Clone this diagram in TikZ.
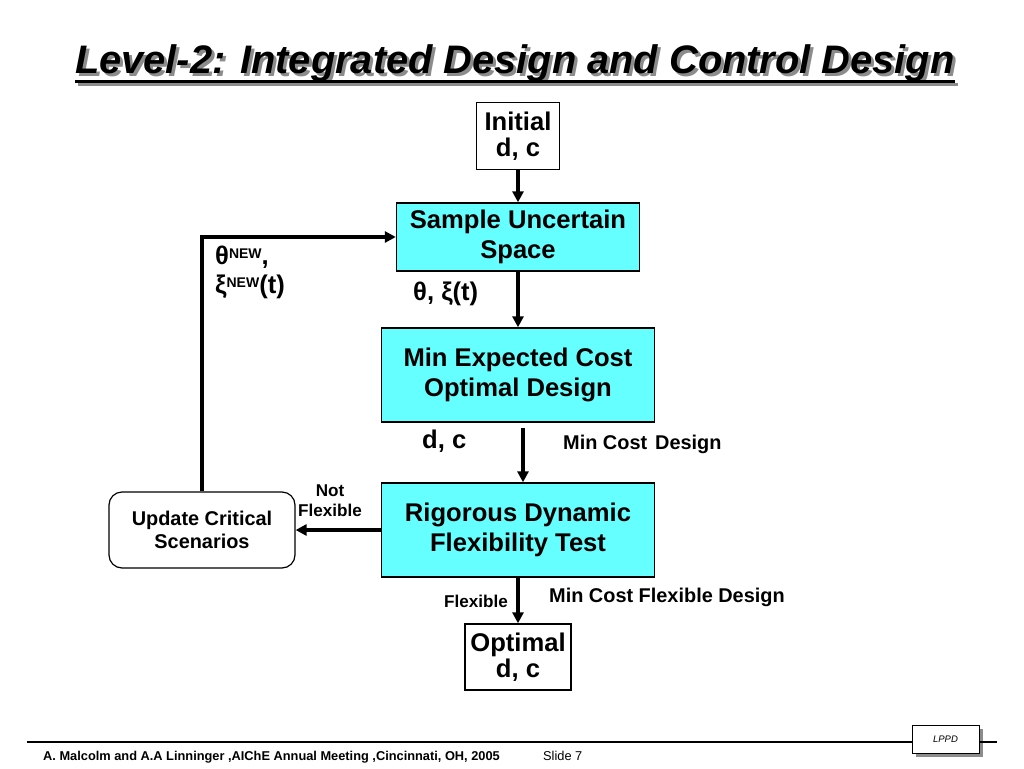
\documentclass[tikz,border=0pt]{standalone}
\usepackage{fontspec}
\setmainfont{Liberation Sans}
\usetikzlibrary{arrows.meta}
\definecolor{boxcyan}{RGB}{102,255,255}
\definecolor{shadowgray}{RGB}{140,140,140}
\begin{document}
\begin{tikzpicture}[x=1pt,y=-1pt,
  arr/.style={line width=3.3pt,-{Triangle[length=11pt,width=11pt]}},
  cyanbox/.style={draw=black,line width=1.4pt,fill=boxcyan,align=center,inner sep=0pt,
    font=\bfseries\fontsize{25.6}{30}\selectfont},
  whitebox/.style={draw=black,line width=1.4pt,fill=white,align=center,inner sep=0pt,
    font=\bfseries\fontsize{25.6}{26.5}\selectfont},
  lbl/.style={inner sep=0pt,anchor=base west},
  bigl/.style={lbl,font=\bfseries\fontsize{25.6}{30}\selectfont},
  midl/.style={lbl,font=\bfseries\fontsize{19.9}{23}\selectfont},
  smalll/.style={inner sep=0pt,font=\bfseries\fontsize{17.1}{19.5}\selectfont},
  titlefont/.style={inner sep=0pt,anchor=base west,font=\bfseries\itshape\fontsize{39.8}{44}\selectfont}
]
\useasboundingbox (0,0) rectangle (1024,768);
\fill[white] (0,0) rectangle (1024,768);

% title with shadow
\node[titlefont,text=shadowgray] (tshadow) at (78,77) {Level-2: Integrated Design and Control Design};
\draw[shadowgray,line width=3pt] ([yshift=-7pt]tshadow.base west) -- ([yshift=-7pt]tshadow.base east);
\node[titlefont] (title) at (75,74) {Level-2: Integrated Design and Control Design};
\draw[line width=3pt] ([yshift=-7pt]title.base west) -- ([yshift=-7pt]title.base east);

% boxes
\node[whitebox,minimum width=83pt,minimum height=67pt] (init) at (518,136) {Initial\\d, c};
\node[cyanbox,minimum width=243pt,minimum height=68pt] (samp) at (518,237) {Sample Uncertain\\Space};
\node[cyanbox,minimum width=273pt,minimum height=94pt] (mec) at (518,375) {Min Expected Cost\\Optimal Design};
\node[cyanbox,minimum width=273pt,minimum height=94pt] (rig) at (518,530) {Rigorous Dynamic\\Flexibility Test};
\node[whitebox,minimum width=106pt,minimum height=66pt] (opt) at (518,657) {Optimal\\d, c};
\node[draw=black,fill=white,rounded corners=13pt,line width=1.2pt,minimum width=186pt,minimum height=76pt,
  align=center,inner sep=0pt,font=\bfseries\fontsize{19.9}{23}\selectfont] (upd) at (202,530) {Update Critical\\Scenarios};

% connectors
\draw[arr] (init.south) -- (samp.north);
\draw[arr] (samp.south) -- (mec.north);
\coordinate (mcs) at (523,428);
\draw[arr] (mcs) -- (mcs |- rig.north);
\draw[arr] (rig.west) -- (upd.east);
\draw[arr,line join=miter] (upd.north) -- (upd.north |- samp.west) -- (samp.west);
\draw[arr] (rig.south) -- (opt.north);

% labels
\node[bigl] (thnew) at (215,264) {θ\raisebox{6pt}{\fontsize{14}{14}\selectfont NEW},};
\node[bigl] (xinew) at (215,293) {ξ\raisebox{6pt}{\fontsize{14}{14}\selectfont NEW}(t)};
\node[bigl] (thxi) at (413,300) {θ, ξ(t)};
\node[bigl] (dc) at (422,448) {d, c};
\node[midl] (mcd) at (563,449) {Min Cost\hspace{8pt}Design};
\node[smalll,align=center] (notflex) at (330,500.5) {Not\\Flexible};
\node[lbl,font=\bfseries\fontsize{17.1}{19.5}\selectfont] (flex) at (444,607) {Flexible};
\node[midl] (mcfd) at (549,602) {Min Cost Flexible Design};

% footer
\fill[shadowgray] (916,729) rectangle (983,757);
\node[draw=black,fill=white,line width=1pt,minimum width=67pt,minimum height=28pt,inner sep=0pt,
  font=\itshape\fontsize{9.5}{10}\selectfont] (lppd) at (945.5,739) {LPPD};
\draw[line width=2.7pt] (27,742) -- (lppd.west |- 0,742);
\draw[line width=2.7pt] (lppd.east |- 0,742) -- (997,742);
\node[lbl,font=\bfseries\fontsize{12.8}{14}\selectfont] (foot) at (43,760) {A. Malcolm and A.A Linninger ,AIChE Annual Meeting ,Cincinnati, OH, 2005};
\node[lbl,font=\fontsize{12.8}{14}\selectfont] (slide) at (543,760) {Slide 7};
\end{tikzpicture}
\end{document}
